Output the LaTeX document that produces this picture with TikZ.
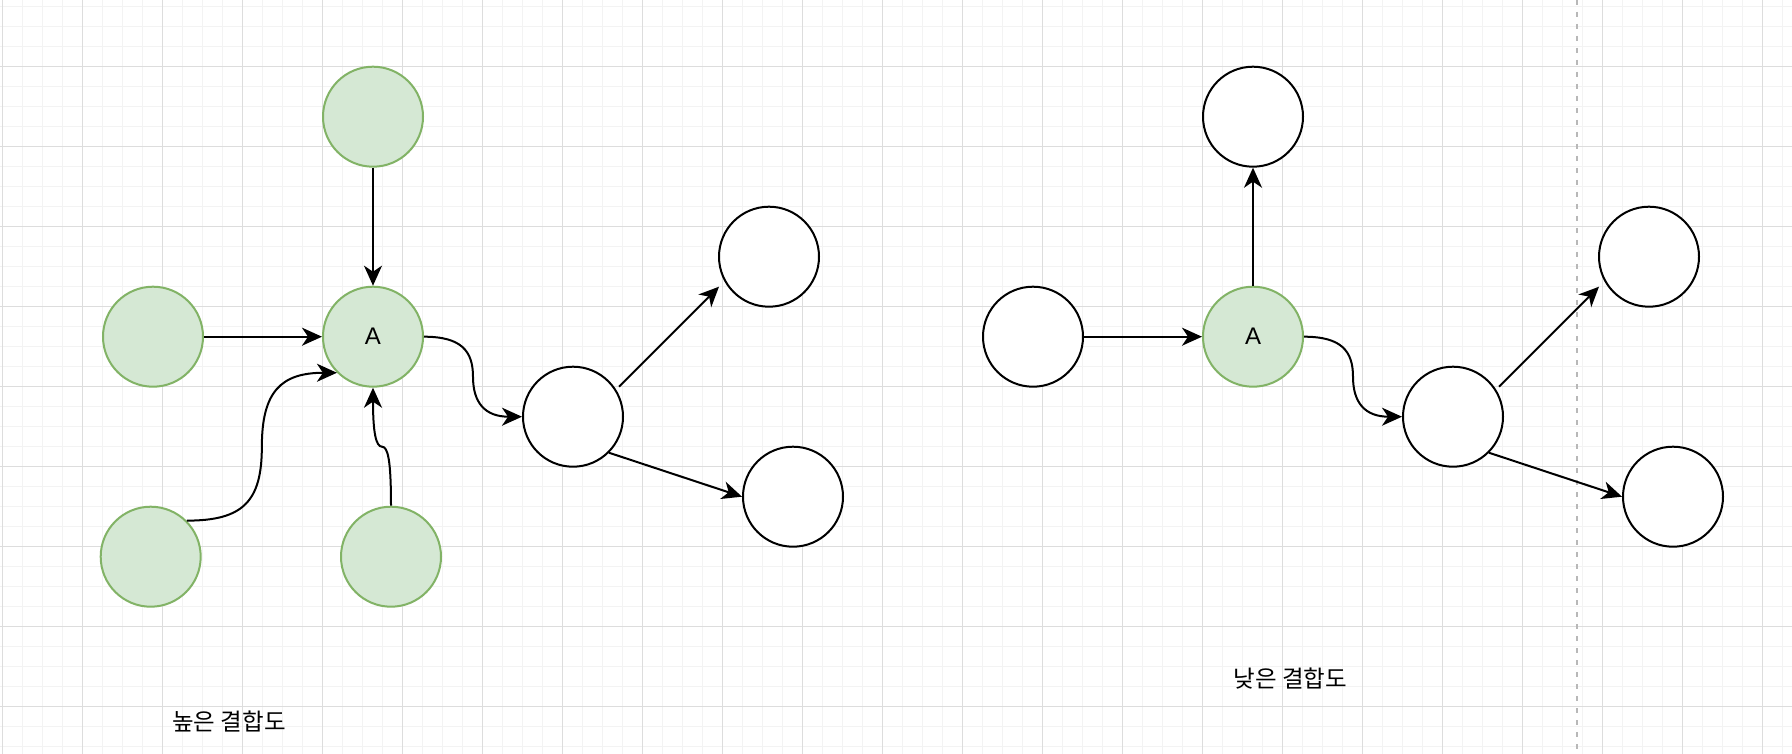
\documentclass[tikz,border=0pt]{standalone}
\usepackage{fontspec}
\setmainfont{Liberation Sans}
\newfontfamily\krfont{Noto Sans CJK KR}
\usetikzlibrary{arrows.meta,calc}

\definecolor{gridminor}{HTML}{F3F3F3}
\definecolor{gridmajor}{HTML}{DDDDDD}
\definecolor{nodefill}{HTML}{D5E8D4}
\definecolor{nodeline}{HTML}{82B366}
\definecolor{divider}{HTML}{B8B8B8}

\tikzset{
  plain/.style={circle, draw=black, fill=white, line width=2pt,
    minimum size=100pt, inner sep=0pt},
  marked/.style={plain, draw=nodeline, fill=nodefill,
    font=\fontsize{24}{26}\selectfont},
  link/.style={line width=2pt, draw=black,
    -{Stealth[length=20pt, width=18pt, inset=6pt]}},
  caption/.style={font=\krfont\fontsize{23.5}{26}\selectfont, inner sep=0pt},
}

\begin{document}
\begin{tikzpicture}[x=1pt, y=-1pt]
  % canvas
  \fill[white] (0,0) rectangle (1792,754);
  \useasboundingbox (0,0) rectangle (1792,754);

  % background grid
  \begin{scope}[line width=1.5pt, draw=gridminor]
    \foreach \gx in {0,...,89} \draw (2.7+20*\gx,0) -- (2.7+20*\gx,754);
    \foreach \gy in {0,...,37} \draw (0,6.3+20*\gy) -- (1792,6.3+20*\gy);
  \end{scope}
  \begin{scope}[line width=1pt, draw=gridmajor]
    \foreach \gx in {0,...,22} \draw (2.7+80*\gx,0) -- (2.7+80*\gx,754);
    \foreach \gy in {0,...,8} \draw (0,66.3+80*\gy) -- (1792,66.3+80*\gy);
  \end{scope}

  % dashed divider between the two halves' outer nodes
  \coordinate (divTop) at (1577,0);
  \coordinate (divBot) at (1577,754);
  \draw[divider, line width=2pt, dash pattern=on 5pt off 7pt] (divTop) -- (divBot);

  % ---- high coupling ----
  \node[marked] (hTop)  at (373,116.7) {};
  \node[marked] (hLeft) at (153,336.7) {};
  \node[marked] (hA)    at (373,336.7) {A};
  \node[marked] (hBL)   at (150.7,556.7) {};
  \node[marked] (hBR)   at (391,556.7) {};
  \node[plain]  (hMid)  at (573,416.7) {};
  \node[plain]  (hUp)   at (769,256.7) {};
  \node[plain]  (hDown) at (793,496.7) {};
  \node[caption] (hCap) at (229,721) {높은 결합도};

  \draw[link] (hTop.south) -- (hA.north);
  \draw[link] (hLeft.east) -- (hA.west);
  \draw[link] (hBL.north east)
    .. controls +(56,0) and +(0,55) .. ($(hBL.north east)!.5!(hA.south west)$)
    .. controls +(0,-55) and +(-56,0) .. (hA.south west);
  \draw[link] (hBR.north)
    .. controls +(0,-45) and +(6,0) .. ($(hBR.north)!.5!(hA.south)$)
    .. controls +(-6,0) and +(0,45) .. (hA.south);
  \draw[link] (hA.east)
    .. controls +(37,0) and +(0,-26) .. ($(hA.east)!.5!(hMid.west)$)
    .. controls +(0,26) and +(-37,0) .. (hMid.west);
  \draw[link] ([shift={(46,-30)}]hMid.center) -- ([shift={(-50,30)}]hUp.center);
  \draw[link] (hMid.south east) -- (hDown.west);

  % ---- low coupling ----
  \node[plain]  (lTop)  at (1253,116.7) {};
  \node[plain]  (lLeft) at (1033,336.7) {};
  \node[marked] (lA)    at (1253,336.7) {A};
  \node[plain]  (lMid)  at (1453,416.7) {};
  \node[plain]  (lUp)   at (1649,256.7) {};
  \node[plain]  (lDown) at (1673,496.7) {};
  \node[caption] (lCap) at (1290.5,679) {낮은 결합도};

  \draw[link] (lLeft.east) -- (lA.west);
  \draw[link] (lA.north) -- (lTop.south);
  \draw[link] (lA.east)
    .. controls +(37,0) and +(0,-26) .. ($(lA.east)!.5!(lMid.west)$)
    .. controls +(0,26) and +(-37,0) .. (lMid.west);
  \draw[link] ([shift={(46,-30)}]lMid.center) -- ([shift={(-50,30)}]lUp.center);
  \draw[link] (lMid.south east) -- (lDown.west);
\end{tikzpicture}
\end{document}
